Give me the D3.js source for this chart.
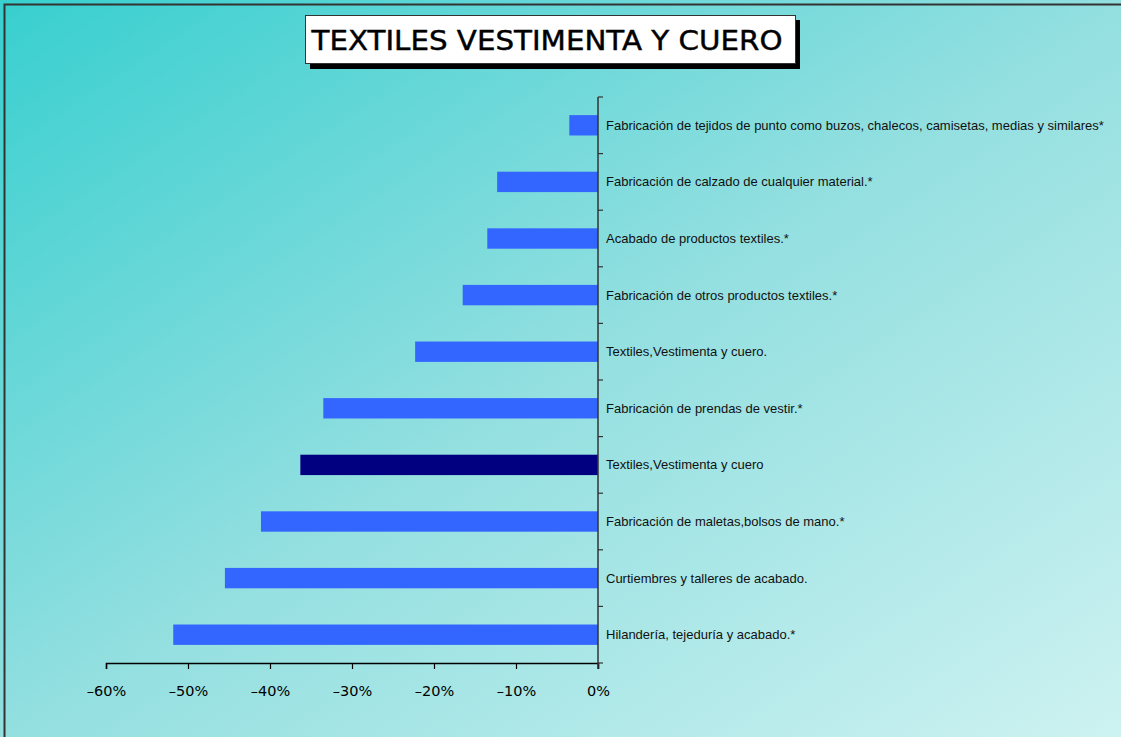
<!DOCTYPE html>
<html>
<head>
<meta charset="utf-8">
<script src="https://cdn.jsdelivr.net/npm/d3@7"></script>
<style>
  body { margin: 0; padding: 0; overflow: hidden; }
  svg { display: block; }
</style>
</head>
<body>
<div id="chart"></div>
<script>
// data (top to bottom)
var categories = [
  "Fabricación de tejidos de punto como buzos, chalecos, camisetas, medias y similares*",
  "Fabricación de calzado de cualquier material.*",
  "Acabado de productos textiles.*",
  "Fabricación de otros productos textiles.*",
  "Textiles,Vestimenta y cuero.",
  "Fabricación de prendas de vestir.*",
  "Textiles,Vestimenta y cuero",
  "Fabricación de maletas,bolsos de mano.*",
  "Curtiembres y talleres de acabado.",
  "Hilandería, tejeduría y acabado.*"
];
var values = [-0.035, -0.123, -0.135, -0.165, -0.223, -0.335, -0.363, -0.411, -0.455, -0.518];
var highlight = "Textiles,Vestimenta y cuero";
var xTicks = [-0.6, -0.5, -0.4, -0.3, -0.2, -0.1, 0];
var title = "TEXTILES VESTIMENTA Y CUERO";

var width = 1121, height = 737;

var svg = d3.select("#chart").append("svg")
    .attr("width", width)
    .attr("height", height);

// background gradient
var defs = svg.append("defs");
var grad = defs.append("linearGradient")
    .attr("id", "bg")
    .attr("x1", "0%").attr("y1", "0%")
    .attr("x2", "100%").attr("y2", "100%");
grad.append("stop").attr("offset", "0%").attr("stop-color", "#38cfcf");
grad.append("stop").attr("offset", "50%").attr("stop-color", "#93dfe0");
grad.append("stop").attr("offset", "100%").attr("stop-color", "#cdf2f1");

svg.append("rect")
    .attr("width", width).attr("height", height)
    .attr("fill", "url(#bg)");

// outer frame (only top/left visible)
svg.append("rect")
    .attr("x", 4.5).attr("y", 4.5)
    .attr("width", width + 20).attr("height", height + 20)
    .attr("fill", "none")
    .attr("stroke", "#333")
    .attr("stroke-width", 2);

// scales
var x = d3.scaleLinear().domain([-0.6, 0]).range([106, 598]);
var y = d3.scaleBand().domain(categories).range([97, 663]).paddingInner(0.64).paddingOuter(0.32);

// bars
svg.selectAll(".bar")
    .data(categories)
    .enter()
    .append("rect")
    .attr("class", "bar")
    .attr("x", function(d, i) { return x(values[i]); })
    .attr("y", function(d) { return y(d); })
    .attr("width", function(d, i) { return x(0) - x(values[i]); })
    .attr("height", y.bandwidth())
    .attr("fill", function(d) { return d == highlight ? "#000080" : "#3366ff"; });

// x axis
var xAxis = svg.append("g")
    .attr("transform", "translate(0,663)")
    .call(d3.axisBottom(x)
        .tickValues(xTicks)
        .tickSize(6)
        .tickFormat(function(d) { return d == 0 ? "0%" : "\u2013" + Math.round(-d * 100) + "%"; }));
xAxis.select(".domain").attr("stroke", "#000").attr("stroke-width", 1.5);
xAxis.selectAll(".tick line").attr("stroke", "#000").attr("stroke-width", 1.2);
xAxis.selectAll(".tick text")
    .attr("y", 23)
    .attr("fill", "#000")
    .style("font-family", "'DejaVu Sans', Verdana, sans-serif")
    .style("font-size", "14.5px");

// y axis: line with ticks at category boundaries
var step = y.step();
var boundaries = d3.range(categories.length + 1).map(function(i) { return 97 + i * step; });
svg.append("line")
    .attr("x1", 598).attr("x2", 598)
    .attr("y1", 97).attr("y2", 669)
    .attr("stroke", "#333").attr("stroke-width", 1.5);
svg.selectAll(".ytick")
    .data(boundaries)
    .enter()
    .append("line")
    .attr("class", "ytick")
    .attr("x1", 598).attr("x2", 603)
    .attr("y1", function(d) { return d; })
    .attr("y2", function(d) { return d; })
    .attr("stroke", "#333").attr("stroke-width", 1.2);

// category labels
svg.selectAll(".label")
    .data(categories)
    .enter()
    .append("text")
    .attr("class", "label")
    .attr("x", 606)
    .attr("y", function(d) { return y(d) + y.bandwidth() / 2; })
    .attr("dy", "0.35em")
    .attr("fill", "#111")
    .style("font-family", "'Liberation Sans', Arial, sans-serif")
    .style("font-size", "13px")
    .text(function(d) { return d; });

// title box with shadow
svg.append("rect")
    .attr("x", 310).attr("y", 20)
    .attr("width", 490).attr("height", 49)
    .attr("fill", "#000");
svg.append("rect")
    .attr("x", 305.5).attr("y", 15.5)
    .attr("width", 490).attr("height", 48)
    .attr("fill", "#fff")
    .attr("stroke", "#333")
    .attr("stroke-width", 1);
svg.append("text")
    .attr("x", 547).attr("y", 49.5)
    .attr("text-anchor", "middle")
    .attr("fill", "#000")
    .attr("stroke", "#000")
    .attr("stroke-width", 0.45)
    .style("font-family", "'DejaVu Sans', Verdana, sans-serif")
    .style("font-size", "27px")
    .attr("textLength", 471)
    .attr("lengthAdjust", "spacingAndGlyphs")
    .text(title);
</script>
</body>
</html>
